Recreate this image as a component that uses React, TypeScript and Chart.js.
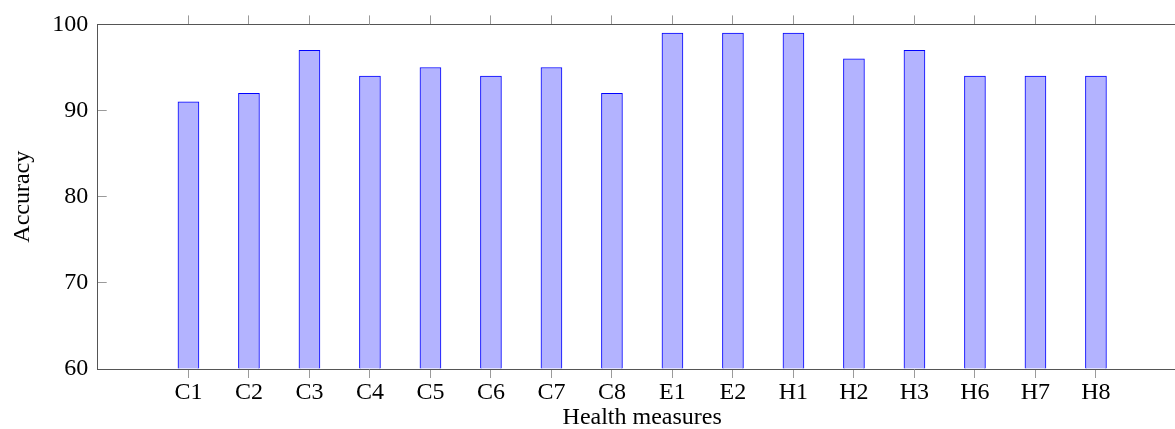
import React, { useEffect, useRef } from "react";
import { Chart, registerables } from "chart.js";

Chart.register(...registerables);

const categories = ["C1", "C2", "C3", "C4", "C5", "C6", "C7", "C8", "E1", "E2", "H1", "H2", "H3", "H6", "H7", "H8"];
const accuracy = [91, 92, 97, 94, 95, 94, 95, 92, 99, 99, 99, 96, 97, 94, 94, 94];
const yMin = 60;
const yMax = 100;
const yStep = 10;
const xTitle = "Health measures";
const yTitle = "Accuracy";

export default function App() {
  const ref = useRef<HTMLCanvasElement>(null);

  useEffect(() => {
    const font = { family: "'Liberation Serif', 'Times New Roman', serif", size: 24, lineHeight: 1 };
    const axisColor = "#555";
    const tickColor = "#9a9a9a";
    const catTicks = (s: any) => {
      s.ticks = categories.map((_, i) => ({ value: i }));
    };
    const noPad = (s: any) => {
      s.paddingTop = 0;
      s.paddingBottom = 0;
      s.paddingLeft = 0;
      s.paddingRight = 0;
    };
    const chart = new Chart(ref.current!, {
      type: "bar",
      data: {
        datasets: [
          {
            data: categories.map((_, i) => ({ x: i, y: accuracy[i] })),
            backgroundColor: "rgb(179,179,255)",
            borderColor: "#0000ff",
            borderWidth: 1,
            borderSkipped: "bottom",
            barThickness: 21,
            base: yMin,
            xAxisID: "x",
            yAxisID: "y",
          } as any,
        ],
      },
      options: {
        animation: false,
        responsive: false,
        layout: { padding: { left: 0, top: 0, bottom: 0, right: 13.3 } },
        plugins: { legend: { display: false }, tooltip: { enabled: false } },
        scales: {
          x: {
            type: "linear",
            position: "bottom",
            min: -1.5,
            max: 16.5,
            offset: false,
            afterBuildTicks: catTicks,
            afterFit: (s: any) => {
              s.height = 60;
              noPad(s);
            },
            grid: { offset: false, drawOnChartArea: false, drawTicks: true, tickLength: 9, color: tickColor, tickColor: tickColor, lineWidth: 1 },
            border: { display: true, color: axisColor, width: 1 },
            ticks: {
              autoSkip: false,
              maxRotation: 0,
              padding: 3,
              color: "#000",
              font,
              callback: (v: any) => categories[v] ?? "",
            },
            title: { display: true, text: xTitle, color: "#000", font, padding: { top: 0, bottom: -1 } },
          },
          xTop: {
            type: "linear",
            position: "top",
            min: -1.5,
            max: 16.5,
            offset: false,
            afterBuildTicks: catTicks,
            afterFit: (s: any) => {
              s.height = 24.4;
              noPad(s);
            },
            grid: { offset: false, drawOnChartArea: false, drawTicks: true, tickLength: 9, color: tickColor, tickColor: tickColor, lineWidth: 1 },
            border: { display: true, color: axisColor, width: 1 },
            ticks: { display: false, autoSkip: false },
          },
          y: {
            type: "linear",
            position: "left",
            min: yMin,
            max: yMax,
            afterFit: (s: any) => {
              s.width = 97.7;
              noPad(s);
            },
            grid: { drawOnChartArea: false, drawTicks: true, tickLength: -9, color: tickColor, tickColor: tickColor, lineWidth: 1 },
            border: { display: true, color: axisColor, width: 1 },
            ticks: { stepSize: yStep, padding: 18.4, color: "#000", font },
            title: { display: true, text: yTitle, color: "#000", font, padding: { top: 11, bottom: 0 } },
          },
        },
      } as any,
    });
    return () => chart.destroy();
  }, []);

  return (
    <div style={{ position: "absolute", left: 0, top: 0, width: 1175, height: 429, overflow: "hidden", background: "#fff" }}>
      <canvas ref={ref} width={1200} height={429} style={{ display: "block" }} />
    </div>
  );
}
